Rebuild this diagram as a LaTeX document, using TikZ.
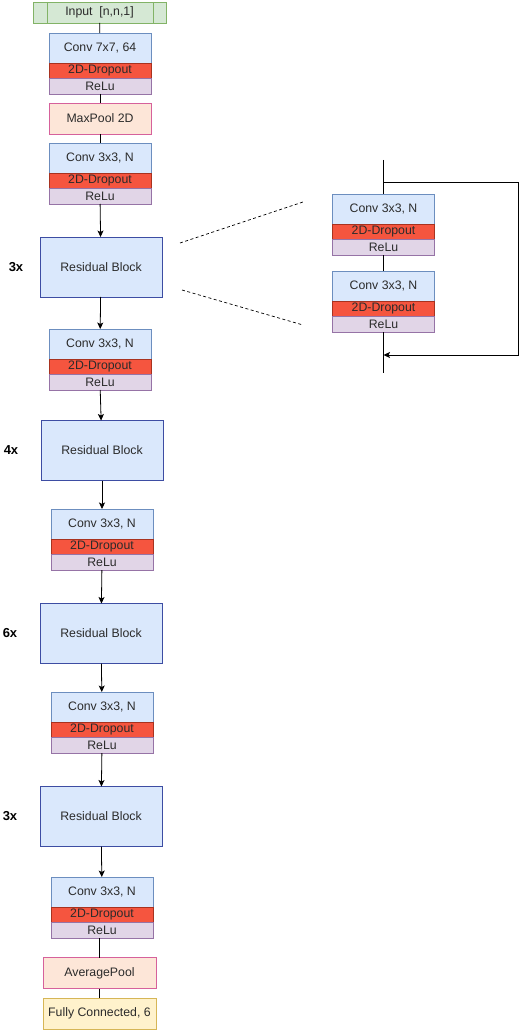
\documentclass[tikz,border=0pt]{standalone}
\usepackage{fontspec}
\setmainfont{Liberation Sans}
\usetikzlibrary{positioning}
\usetikzlibrary{arrows.meta}

\definecolor{convfill}{HTML}{DAE8FC}
\definecolor{convline}{HTML}{6C8EBF}
\definecolor{dropfill}{HTML}{F5553F}
\definecolor{dropline}{HTML}{A8321F}
\definecolor{relufill}{HTML}{E1D5E7}
\definecolor{reluline}{HTML}{9673A6}
\definecolor{resline}{HTML}{3D4DA3}
\definecolor{inputfill}{HTML}{D5E8D4}
\definecolor{inputline}{HTML}{82B366}
\definecolor{poolfill}{HTML}{FDE6D8}
\definecolor{poolline}{HTML}{D6619B}
\definecolor{fcfill}{HTML}{FFF2CC}
\definecolor{fcline}{HTML}{D6B656}
\definecolor{textgray}{HTML}{2B2B2B}

\newcommand{\convstack}[4]{%
  \node[conv, anchor=north] (#1) at (#2,#3) {#4};
  \node[drop, below=0pt of #1] (#1d) {2D-Dropout};
  \node[relu, below=0pt of #1d] (#1r) {ReLu};
}

\begin{document}
\begin{tikzpicture}[x=1pt, y=-1pt,
    font=\fontsize{12.3}{13}\selectfont,
    every node/.style={outer sep=0pt, inner sep=1pt, line width=0.8pt, text=textgray},
    conv/.style={draw=convline, fill=convfill, minimum width=102pt, minimum height=30pt},
    drop/.style={draw=dropline, fill=dropfill, minimum width=102pt, minimum height=15.5pt},
    relu/.style={draw=reluline, fill=relufill, minimum width=102pt, minimum height=15.5pt},
    resblock/.style={draw=resline, fill=convfill, minimum width=122pt, minimum height=60pt},
    pool/.style={draw=poolline, fill=poolfill, minimum height=31pt},
    times/.style={font=\fontsize{13}{14}\selectfont\bfseries, text=black},
    arr/.style={-{Stealth[length=6.5pt,width=6pt,inset=1.5pt]}},
    line width=0.8pt]
  \useasboundingbox (0,0) rectangle (520,1032);

  \node[draw=inputline, fill=inputfill, minimum width=133pt, minimum height=21pt] (in) at (99.5,12.5) {Input\ \ [n,n,1]};
  \draw[inputline] ([xshift=14pt]in.north west) -- ([xshift=14pt]in.south west);
  \draw[inputline] ([xshift=-13pt]in.north east) -- ([xshift=-13pt]in.south east);

  \convstack{c1}{100}{33}{Conv 7x7, 64}
  \node[pool, minimum width=102pt] (mp) at (100,118.5) {MaxPool 2D};
  \convstack{c2}{100}{143}{Conv 3x3, N}
  \node[resblock] (r1) at (101,267) {Residual Block};
  \convstack{c3}{100}{329}{Conv 3x3, N}
  \node[resblock] (r2) at (102,450.5) {Residual Block};
  \convstack{c4}{102}{509}{Conv 3x3, N}
  \node[resblock] (r3) at (101,633.5) {Residual Block};
  \convstack{c5}{102}{692}{Conv 3x3, N}
  \node[resblock] (r4) at (101,816.5) {Residual Block};
  \convstack{c6}{102}{877}{Conv 3x3, N}
  \node[pool, minimum width=113pt] (ap) at (99.5,973) {AveragePool};
  \node[draw=fcline, fill=fcfill, minimum width=113pt, minimum height=31pt] (fc) at (99.5,1013.5) {Fully Connected, 6};

  \node[times] (n1) at (16,267) {3x};
  \node[times] (n2) at (11,450.5) {4x};
  \node[times] (n3) at (10,633.5) {6x};
  \node[times] (n4) at (10,816.5) {3x};

  \draw (in) -- (c1);
  \draw (c1r) -- (mp);
  \draw (mp) -- (c2);
  \draw[arr] (c2r) -- (r1);
  \draw[arr] (r1) -- (c3);
  \draw[arr] (c3r) -- (r2);
  \draw[arr] (r2) -- (c4);
  \draw[arr] (c4r) -- (r3);
  \draw[arr] (r3) -- (c5);
  \draw[arr] (c5r) -- (r4);
  \draw[arr] (r4) -- (c6);
  \draw (ap.north |- c6r.south) -- (ap);
  \draw (ap) -- (fc);

  % inside a residual block
  \convstack{ra}{383.5}{194}{Conv 3x3, N}
  \convstack{rb}{383.5}{271}{Conv 3x3, N}
  \coordinate (rtop) at (383.5,160);
  \coordinate (rbot) at (383.5,373);
  \coordinate (skip) at (383.5,182);
  \coordinate (sk1) at (518,182);
  \coordinate (sk2) at (518,355);
  \coordinate (back) at (383.5,355);
  \draw (rtop) -- (ra);
  \draw (rar) -- (rb);
  \draw (rbr) -- (rbot);
  \draw[arr] (skip) -- (sk1) -- (sk2) -- (back);

  \coordinate (z1) at (180,243);
  \coordinate (z2) at (303,202);
  \coordinate (z3) at (182,290);
  \coordinate (z4) at (303,325);
  \draw[dash pattern=on 3pt off 2.5pt, line width=0.7pt] (z1) -- (z2);
  \draw[dash pattern=on 3pt off 2.5pt, line width=0.7pt] (z3) -- (z4);
\end{tikzpicture}
\end{document}
